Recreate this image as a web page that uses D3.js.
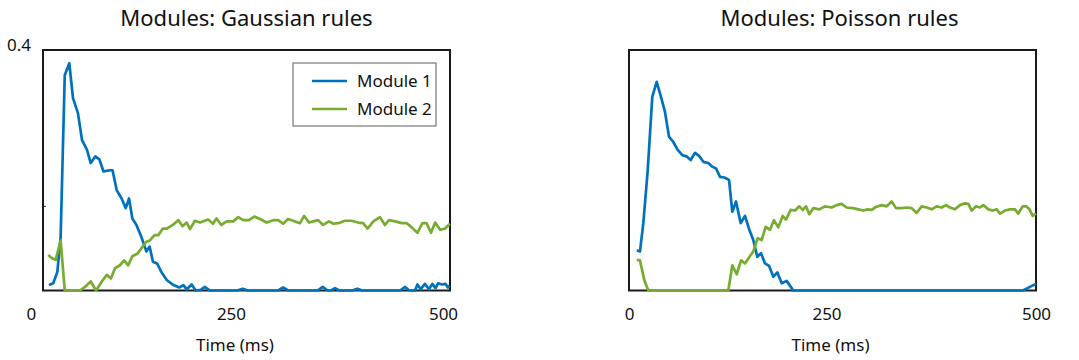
<!DOCTYPE html>
<html>
<head>
<meta charset="utf-8">
<script src="https://cdn.jsdelivr.net/npm/d3@7"></script>
<style>
  body { margin: 0; background: #fff; }
  svg text { font-family: "Noto Sans", "Open Sans", sans-serif; fill: #111; }
</style>
</head>
<body>
<svg id="chart" width="1079" height="360"></svg>
<script>
// values
const seriesNames = ["Module 1", "Module 2"];
const xTicks = [0, 250, 500];
const yTopLabel = "0.4";
const leftYTicks = [0.14];

// Gaussian rules panel
const gaussT1 = [22, 27, 32, 36, 41, 46.5, 51, 57, 62, 68, 72.5, 78, 83, 88, 96, 99, 104, 110, 115, 119,
  123, 128, 134, 140, 144, 148, 153, 159, 165, 173, 180, 185, 189, 195, 200, 206, 211, 217, 250, 257,
  263, 300, 306, 312, 348, 354, 360, 364, 369, 374, 390, 396, 402, 448, 454, 459, 466, 469, 473, 478,
  483, 487, 491, 494, 499, 503, 506, 508];
const gaussM1 = [0.009, 0.012, 0.031, 0.089, 0.358, 0.378, 0.320, 0.295, 0.250, 0.234, 0.212, 0.223, 0.218, 0.198, 0.200, 0.200, 0.167, 0.153, 0.137, 0.153,
  0.120, 0.109, 0.089, 0.065, 0.073, 0.048, 0.045, 0.029, 0.017, 0.009, 0.005, 0.009, 0.002, 0.010, 0, 0.001, 0.006, 0, 0, 0.003,
  0, 0, 0.005, 0, 0, 0.006, 0, 0, 0.004, 0, 0, 0.003, 0, 0, 0.006, 0, 0, 0.010, 0.002, 0.011,
  0.002, 0.011, 0.004, 0.012, 0.010, 0.011, 0.005, 0.008];

const gaussT2 = [21, 25, 30, 36, 41, 59.5, 65.5, 72.5, 79, 86, 92, 97, 102, 108, 113, 118, 123, 129, 134, 140,
  144, 150, 154.5, 160, 165, 172, 179, 184, 189, 193, 199, 205, 215, 221, 225, 231, 237.5, 245.5, 251.5, 257.5,
  264.5, 271, 278, 286, 294, 300, 306, 312, 320, 326.5, 331.5, 337.5, 342.5, 348.5, 354.5, 361.5, 367, 373, 381, 389,
  397, 403, 408.5, 415.5, 423.5, 429.5, 434.5, 442, 450, 456, 462, 469, 475, 480, 485.5, 490.5, 496.5, 502.5, 508.5];
const gaussM2 = [0.059, 0.054, 0.051, 0.083, 0, 0, 0.006, 0.015, 0, 0.015, 0.026, 0.020, 0.037, 0.042, 0.050, 0.042, 0.057, 0.061, 0.070, 0.081,
  0.083, 0.092, 0.092, 0.103, 0.103, 0.109, 0.117, 0.107, 0.113, 0.102, 0.116, 0.113, 0.118, 0.111, 0.120, 0.109, 0.115, 0.115, 0.122, 0.117,
  0.117, 0.123, 0.119, 0.113, 0.117, 0.117, 0.111, 0.119, 0.115, 0.112, 0.124, 0.113, 0.115, 0.117, 0.109, 0.115, 0.111, 0.112, 0.116, 0.116,
  0.113, 0.112, 0.103, 0.115, 0.122, 0.109, 0.117, 0.115, 0.112, 0.112, 0.105, 0.096, 0.112, 0.112, 0.096, 0.113, 0.101, 0.103, 0.111];

// Poisson rules panel
const poissT1 = [9.5, 13.5, 17.6, 23, 28.6, 34, 39.3, 44.2, 49.1, 54.4, 59.8, 65.5, 70.9, 75.8, 81.1, 86, 91.3, 97.4, 102.3, 106.9,
  111.8, 117.1, 122.9, 126.9, 131.5, 137.2, 142.5, 147.8, 152.7, 157.6, 162.2, 167.1, 172, 177.3, 182.2, 187.6, 193.7, 201.8, 484, 492.6, 500];
const poissM1 = [0.067, 0.065, 0.112, 0.200, 0.322, 0.347, 0.322, 0.297, 0.256, 0.247, 0.234, 0.225, 0.223, 0.217, 0.229, 0.224, 0.214, 0.212, 0.206, 0.203,
  0.189, 0.188, 0.184, 0.131, 0.148, 0.112, 0.124, 0.101, 0.084, 0.056, 0.062, 0.045, 0.041, 0.023, 0.030, 0.012, 0.016, 0, 0, 0.006, 0.011];

const poissT2 = [9.5, 13.5, 18.8, 23.7, 122, 126.9, 132.3, 137.6, 142.5, 147.4, 152.7, 158.1, 163, 167.9, 173.2, 178.1, 183.4, 188.8, 192.9, 198.6,
  203.9, 209.2, 213.4, 217.4, 221.5, 226.4, 233.8, 240.8, 249, 255.2, 261.3, 267.4, 274.8, 281.7, 287.8, 292.8, 298.2, 303.4, 310.4, 316.6,
  322.7, 328, 335, 341.1, 347.3, 353.4, 359.6, 365.7, 371.9, 378, 384.1, 389.4, 394.3, 400.5, 406.6, 412.8, 416.9, 421, 426.3, 431.2,
  435.3, 441.4, 446.8, 451.7, 455.8, 461.9, 468.1, 474.2, 478.3, 483.7, 488, 492, 496, 500];
const poissM2 = [0.051, 0.050, 0.017, 0, 0, 0.042, 0.027, 0.050, 0.045, 0.055, 0.065, 0.087, 0.084, 0.106, 0.101, 0.117, 0.105, 0.124, 0.118, 0.134,
  0.133, 0.140, 0.134, 0.140, 0.127, 0.137, 0.135, 0.140, 0.138, 0.142, 0.144, 0.138, 0.137, 0.135, 0.133, 0.135, 0.134, 0.139, 0.142, 0.140,
  0.148, 0.137, 0.137, 0.138, 0.137, 0.129, 0.140, 0.138, 0.135, 0.140, 0.138, 0.142, 0.138, 0.135, 0.142, 0.145, 0.144, 0.133, 0.140, 0.138,
  0.142, 0.135, 0.133, 0.135, 0.128, 0.133, 0.135, 0.135, 0.128, 0.140, 0.140, 0.135, 0.124, 0.128];

const colors = ["#0072bd", "#77ac30"];

const panels = [
  { title: "Modules: Gaussian rules", domain: [14.6, 508.5], range: [43, 450], titleDx: 0,
    series: [[gaussT1, gaussM1], [gaussT2, gaussM2]], legend: true, yLabels: true },
  { title: "Modules: Poisson rules", domain: [0, 500], range: [629, 1036], titleDx: 7,
    series: [[poissT1, poissM1], [poissT2, poissM2]], legend: false, yLabels: false }
];

const svg = d3.select("#chart");
const y = d3.scaleLinear().domain([0, 0.4]).range([290.5, 50]);

panels.forEach((p) => {
  const x = d3.scaleLinear().domain(p.domain).range(p.range);
  const g = svg.append("g");
  const [x0, x1] = p.range;
  const [yb, yt] = y.range();

  g.append("rect")
    .attr("x", x0).attr("y", yt)
    .attr("width", x1 - x0).attr("height", yb - yt)
    .attr("fill", "none").attr("stroke", "#1a1a1a").attr("stroke-width", 2);

  // x tick labels only
  const ax = g.append("g")
    .attr("transform", `translate(0,${yb})`)
    .call(d3.axisBottom(x).tickValues(xTicks).tickSize(0).tickPadding(17));
  ax.select(".domain").remove();
  ax.selectAll("text")
    .attr("font-size", 17)
    .attr("font-family", "Noto Sans")
    .attr("dx", (d) => (d === 250 ? -6 : 0));

  g.append("text")
    .attr("x", x(250) - 2).attr("y", 351)
    .attr("text-anchor", "middle").attr("font-size", 17)
    .text("Time (ms)");

  g.append("text")
    .attr("x", (x0 + x1) / 2 + p.titleDx).attr("y", 26)
    .attr("text-anchor", "middle").attr("font-size", 22)
    .text(p.title);

  if (p.yLabels) {
    g.append("text")
      .attr("x", x0 - 12).attr("y", y(0.4) + 1)
      .attr("text-anchor", "end").attr("font-size", 17)
      .text(yTopLabel);
    g.selectAll(".ytick").data(leftYTicks).enter().append("line")
      .attr("x1", x0).attr("x2", x0 + 3)
      .attr("y1", (d) => y(d)).attr("y2", (d) => y(d))
      .attr("stroke", "#222").attr("stroke-width", 1);
  }

  const line = d3.line()
    .x((d) => x(d[0]))
    .y((d) => y(d[1]));

  p.series.forEach(([ts, vs], i) => {
    g.append("path")
      .datum(ts.map((t, k) => [t, vs[k]]))
      .attr("d", line)
      .attr("fill", "none")
      .attr("stroke", colors[i])
      .attr("stroke-width", 2.7)
      .attr("stroke-linejoin", "round");
  });

  if (p.legend) {
    const lg = g.append("g").attr("transform", "translate(293,63)");
    lg.append("rect")
      .attr("width", 143).attr("height", 63)
      .attr("fill", "#fff").attr("stroke", "#777").attr("stroke-width", 1.2);
    seriesNames.forEach((name, i) => {
      const ly = 18 + i * 28;
      lg.append("line")
        .attr("x1", 19).attr("x2", 54)
        .attr("y1", ly).attr("y2", ly)
        .attr("stroke", colors[i]).attr("stroke-width", 2.7);
      lg.append("text")
        .attr("x", 64).attr("y", ly + 6)
        .attr("font-size", 17)
        .text(name);
    });
  }
});
</script>
</body>
</html>
